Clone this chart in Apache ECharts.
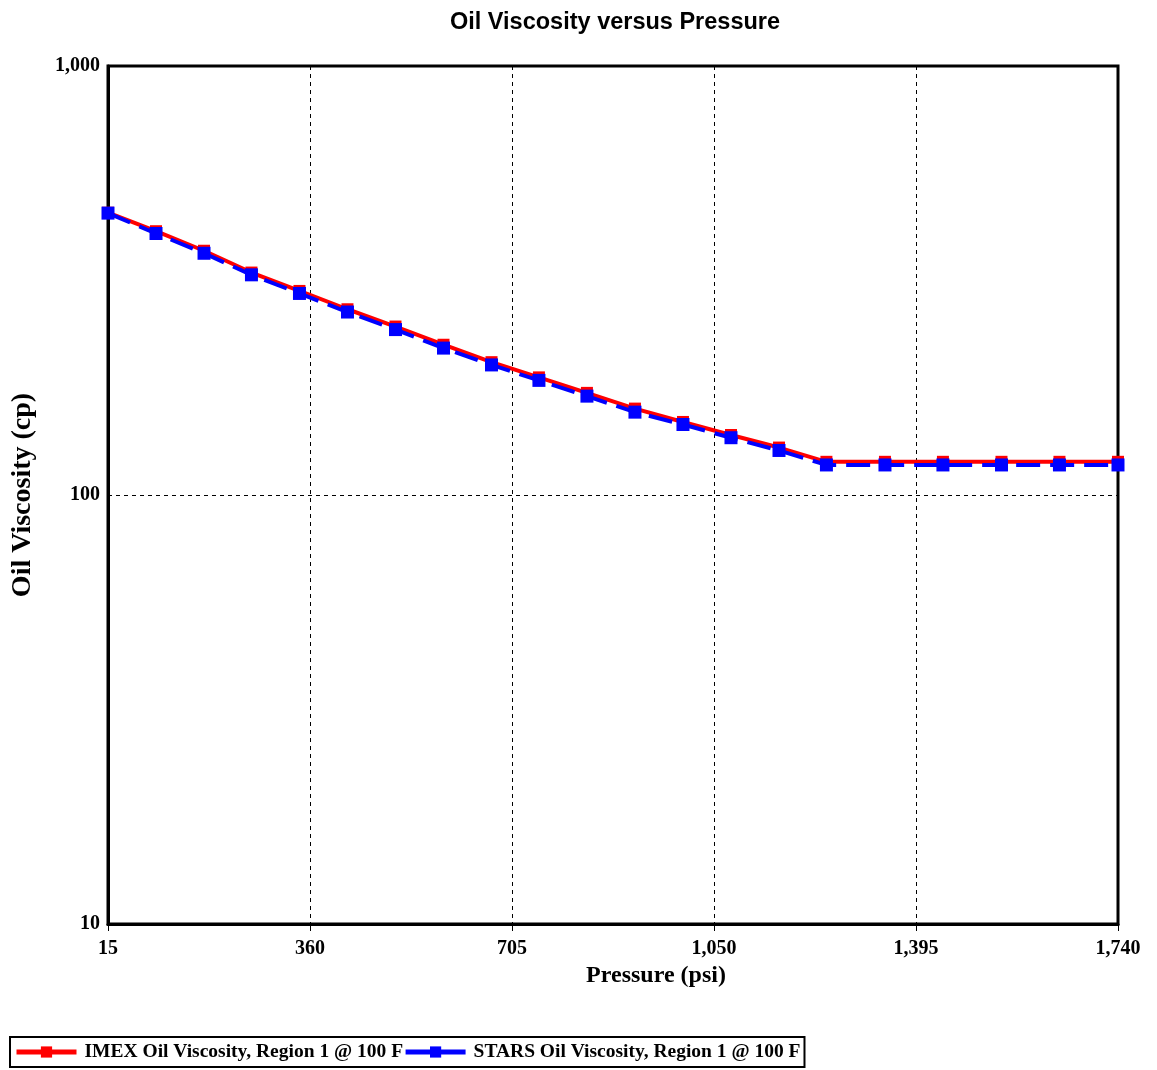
<!DOCTYPE html>
<html>
<head>
<meta charset="utf-8">
<title>Oil Viscosity versus Pressure</title>
<script src="https://cdn.jsdelivr.net/npm/echarts@6/dist/echarts.min.js"></script>
<style>
  html, body { margin: 0; padding: 0; background: #fff; }
  #chart { width: 1157px; height: 1070px; }
</style>
</head>
<body>
<div id="chart"></div>
<script>
// pressure (psi)
const pressure = [15, 97, 179, 260, 342, 424, 506, 588, 670, 751, 833, 915, 997, 1079, 1161, 1242, 1342, 1441, 1541, 1640, 1740]
// oil viscosity (cp)
const imexVisc = [455, 412, 371, 330, 299, 271, 247, 224, 204, 188, 173, 159, 148, 138, 129, 119.5, 119.5, 119.5, 119.5, 119.5, 119.5]
const starsVisc = [454, 407, 366, 326, 295, 267, 243, 220, 201, 185, 170, 156, 146, 136, 127, 117.5, 117.5, 117.5, 117.5, 117.5, 117.5]

const xTicks = { min: 15, max: 1740, step: 345 }
const yTicks = { min: 10, max: 1000 }

const serif = "'Liberation Serif', 'Times New Roman', serif"
const fmt = (v) => Math.round(v).toString().replace(/\B(?=(\d{3})+(?!\d))/g, ',')

const chart = echarts.init(document.getElementById('chart'))

const option = {
  animation: false,
  backgroundColor: '#fff',
  title: {
    text: 'Oil Viscosity versus Pressure',
    left: 610,
    textAlign: 'center',
    top: 6,
    textStyle: {
      fontFamily: "'Liberation Sans Narrow', 'Arial Narrow', 'Liberation Sans', sans-serif",
      fontWeight: 'bold',
      fontSize: 23.5,
      color: '#000',
    },
  },
  grid: {
    left: 108,
    right: 39,
    top: 66,
    bottom: 146,
    show: true,
    borderColor: '#000',
    borderWidth: 3,
  },
  legend: {
    left: 10,
    top: 1037,
    orient: 'horizontal',
    itemGap: 0,
    itemWidth: 60,
    itemHeight: 14,
    padding: [5, 4, 5, 4],
    borderColor: '#000',
    borderWidth: 2,
    textStyle: {
      fontFamily: serif,
      fontWeight: 'bold',
      fontSize: 19.5,
      color: '#000',
      padding: [0, 0, 0, 3],
    },
    data: [
      { name: 'IMEX Oil Viscosity, Region 1 @ 100 F', lineStyle: { width: 5 } },
      { name: 'STARS Oil Viscosity, Region 1 @ 100 F', lineStyle: { type: 'solid', width: 5 } },
    ],
  },
  xAxis: {
    type: 'value',
    min: xTicks.min,
    max: xTicks.max,
    interval: xTicks.step,
    name: 'Pressure (psi)',
    nameLocation: 'middle',
    nameGap: 38,
    nameTextStyle: {
      fontFamily: serif,
      fontWeight: 'bold',
      fontSize: 24,
      color: '#000',
      padding: [0, 0, 0, 86],
    },
    axisLine: { lineStyle: { color: '#000', width: 3 } },
    axisTick: { show: true, length: 7, lineStyle: { color: '#000', width: 1 } },
    axisLabel: {
      margin: 15,
      fontFamily: serif,
      fontWeight: 'bold',
      fontSize: 20,
      color: '#000',
      formatter: fmt,
    },
    splitLine: { show: true, lineStyle: { color: '#000', type: [4, 4], width: 1 } },
  },
  yAxis: {
    type: 'log',
    logBase: 10,
    min: yTicks.min,
    max: yTicks.max,
    name: 'Oil Viscosity (cp)',
    nameLocation: 'middle',
    nameGap: 71,
    nameTextStyle: {
      fontFamily: serif,
      fontWeight: 'bold',
      fontSize: 28,
      color: '#000',
    },
    axisLine: { show: true, lineStyle: { color: '#000', width: 3 } },
    axisTick: { show: false },
    minorTick: { show: false },
    axisLabel: {
      margin: 8,
      fontFamily: serif,
      fontWeight: 'bold',
      fontSize: 20,
      color: '#000',
      padding: [10, 0, 0, 0],
      formatter: fmt,
    },
    splitLine: { show: true, lineStyle: { color: '#000', type: [4, 4], width: 1 } },
  },
  series: [
    {
      name: 'IMEX Oil Viscosity, Region 1 @ 100 F',
      type: 'line',
      data: pressure.map((p, i) => [p, imexVisc[i]]),
      symbol: 'rect',
      symbolSize: 12,
      color: '#ff0000',
      lineStyle: { color: '#ff0000', width: 4 },
      itemStyle: { color: '#ff0000' },
      z: 2,
    },
    {
      name: 'STARS Oil Viscosity, Region 1 @ 100 F',
      type: 'line',
      data: pressure.map((p, i) => [p, starsVisc[i]]),
      symbol: 'rect',
      symbolSize: 13,
      color: '#0000ff',
      lineStyle: { color: '#0000ff', width: 4, type: [24, 10] },
      itemStyle: { color: '#0000ff' },
      z: 3,
    },
  ],
}

chart.setOption(option)
</script>
</body>
</html>
